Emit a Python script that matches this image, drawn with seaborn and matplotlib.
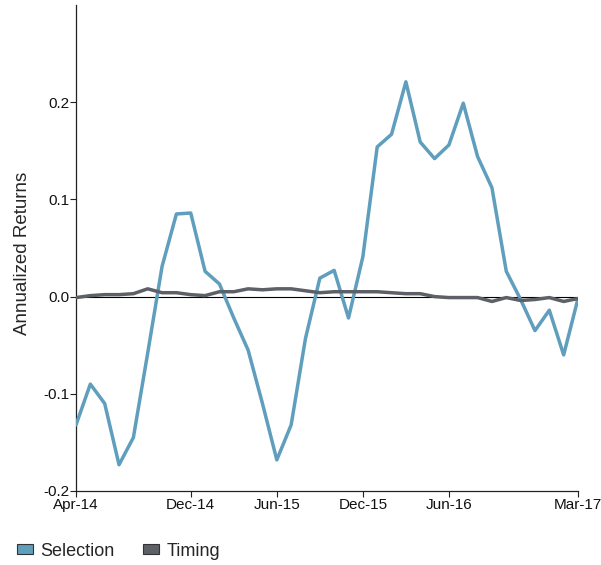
import numpy as np
import pandas as pd
import matplotlib
matplotlib.use("Agg")
import matplotlib.pyplot as plt
from matplotlib.patches import Patch
import seaborn as sns

months = pd.date_range("2014-04-01", "2017-03-01", freq="MS")
selection = [-0.132, -0.090, -0.110, -0.173, -0.145, -0.058, 0.031, 0.085, 0.086, 0.026,
             0.013, -0.022, -0.055, -0.110, -0.168, -0.132, -0.043, 0.019, 0.027, -0.022,
             0.041, 0.154, 0.167, 0.221, 0.159, 0.142, 0.156, 0.199, 0.144, 0.112,
             0.026, -0.003, -0.035, -0.014, -0.060, -0.002]
timing = [-0.001, 0.001, 0.002, 0.002, 0.003, 0.008, 0.004, 0.004, 0.002, 0.001,
          0.005, 0.005, 0.008, 0.007, 0.008, 0.008, 0.006, 0.004, 0.005, 0.005,
          0.005, 0.005, 0.004, 0.003, 0.003, 0.000, -0.001, -0.001, -0.001, -0.005,
          -0.001, -0.004, -0.003, -0.001, -0.005, -0.002]
series_names = ["Selection", "Timing"]
colors = ["#5f9ebd", "#5e6068"]
tick_labels = ["Apr-14", "Dec-14", "Jun-15", "Dec-15", "Jun-16", "Mar-17"]
tick_idx = [0, 8, 14, 20, 26, 35]
yticks = [-0.2, -0.1, 0.0, 0.1, 0.2]
ytick_labels = ["-0.2", "-0.1", "0.0", "0.1", "0.2"]

df = pd.DataFrame({
    "month": np.concatenate([np.arange(len(months))] * 2),
    "value": selection + timing,
    "series": [series_names[0]] * len(selection) + [series_names[1]] * len(timing),
})

sns.set_style("white")
plt.rcParams["font.family"] = ["Liberation Sans", "DejaVu Sans"]

fig = plt.figure(figsize=(6.01, 5.65), dpi=100)
ax = fig.add_axes([76 / 601, 1 - 491 / 565, (578 - 76) / 601, (491 - 5) / 565])

ax.axhline(0, color="black", lw=0.8, zorder=1)
sns.lineplot(data=df, x="month", y="value", hue="series", palette=colors,
             hue_order=series_names, linewidth=2.5, ax=ax, legend=False, zorder=3)

ax.set_xlim(0, len(months) - 1)
ax.set_ylim(-0.2, 0.3)
ax.set_yticks(yticks)
ax.set_yticklabels(ytick_labels, fontsize=11)
ax.set_xticks(tick_idx)
ax.set_xticklabels(tick_labels, fontsize=11)
ax.set_xlabel("")
ax.set_ylabel("Annualized Returns", fontsize=13.5)
ax.yaxis.set_label_coords(-0.090, 0.488)
for s in ["top", "right"]:
    ax.spines[s].set_visible(False)
for s in ["left", "bottom"]:
    ax.spines[s].set_color("#222222")
    ax.spines[s].set_linewidth(0.9)
ax.tick_params(axis="both", which="both", direction="out", length=4, width=0.8,
               color="#222222", left=True, bottom=True, pad=1.0, labelcolor="#111111")

handles = [Patch(facecolor=c, edgecolor="#333333", linewidth=0.8) for c in colors]
fig.legend(handles, series_names, loc="center left", bbox_to_anchor=(17 / 601, 1 - 551 / 565),
           ncol=2, frameon=False, fontsize=13, handlelength=0.9, handleheight=0.45,
           handletextpad=0.4, columnspacing=1.55, borderpad=0, borderaxespad=0)

fig.savefig("out.png", dpi=100)
